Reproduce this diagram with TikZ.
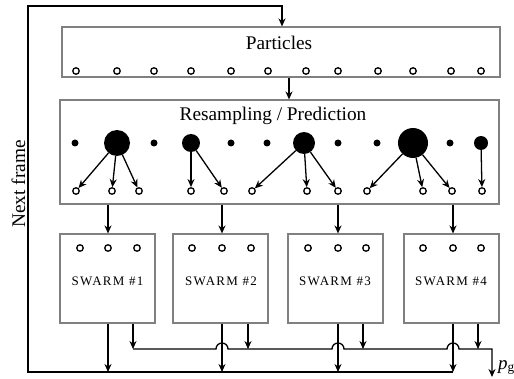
\documentclass[tikz,border=0pt]{standalone}
\usepackage{fontspec}
\setmainfont{Liberation Serif}
\usetikzlibrary{arrows.meta,calc}
\begin{document}
\begin{tikzpicture}[x=1pt,y=1pt,
  line/.style={line width=1.3pt},
  arr/.style={line, -{Stealth[length=8pt,width=7pt]}},
  graybox/.style={draw={rgb,255:red,128;green,128;blue,128}, line width=1.1pt, inner sep=0},
  hollow/.style={circle, draw, line width=1.3pt, inner sep=0, minimum size=6.5pt},
  dotn/.style={circle, fill, inner sep=0},
  title/.style={font=\fontsize{19.3}{22}\selectfont, anchor=base, inner sep=0},
  swarmlbl/.style={font=\fontsize{13}{15}\selectfont\addfontfeature{LetterSpace=10}, anchor=base, inner sep=0}
]
\useasboundingbox (0,0) rectangle (514,378);
% Particles
\node[graybox, minimum width=438pt, minimum height=50pt] (part) at (281,326) {};
\node[title] (partT) at (279,328) {Particles};
\foreach \x [count=\i] in {76,117,154,191,231,268,306,338,378,413,451,481}
  \node[hollow] (p\i) at (\x,307) {};
% Resampling
\node[graybox, minimum width=439pt, minimum height=104pt] (res) at (279.5,226) {};
\node[title] (resT) at (273,257) {Resampling / Prediction};
\foreach \x/\d [count=\i] in {75/7,117/26,154/7,191/18,231/7,267/7,304/22,338/7,377/7,413/30,450/7,481/14}
  \node[dotn, minimum size=\d pt] (d\i) at (\x,235) {};
\foreach \x [count=\i] in {76,112,139,191,224,252,307,338,367,423,452,482}
  \node[hollow] (h\i) at (\x,187) {};
\foreach \a/\b in {2/1,2/2,2/3,4/4,4/5,7/6,7/7,7/8,10/9,10/10,10/11,12/12}
  \draw[arr] (d\a) -- (h\b);
\coordinate (pr) at (289,300);
\draw[arr] (part.south -| pr) -- (res.north -| pr);
% Swarms
\foreach \c/\t [count=\i] in {107.5/107.5,220.5/221,335.5/335,451.5/451}{
  \node[graybox, minimum width=95pt, minimum height=89pt] (s\i) at (\c,99.5) {};
  \node[swarmlbl] (sl\i) at (\t,93) {SWARM \#\i};
}
\foreach \i/\xa/\xb/\xc in {1/80/108/137,2/192/222/251,3/308/338/366,4/423/453/481}{
  \node[hollow] (c\i-1) at (\xa,130) {};
  \node[hollow] (c\i-2) at (\xb,130) {};
  \node[hollow] (c\i-3) at (\xc,130) {};
}
\foreach \i in {1,...,4}
  \draw[arr] (res.south -| c\i-2) -- (s\i.north -| c\i-2);
% loop
\coordinate (bl) at (28,6);
\coordinate (tl) at (28,372);
\coordinate (tr) at (282,372);
\draw[arr] (bl -| c4-2) -- (bl) -- (tl) -- (tr) -- (tr |- part.north);
\foreach \i in {1,...,4}
  \draw[arr] (s\i.south -| c\i-2) -- (bl -| c\i-2);
% p_g line
\foreach \i/\x in {1/133,2/248,3/363,4/478}{
  \coordinate (r\i) at (\x,29);
  \draw[arr] (s\i.south -| r\i) -- (r\i);
}
\coordinate (pg) at (492,29);
\coordinate (pgend) at (492,1);
\draw[arr] (r1) -- ($(r1 -| c2-2)+(-6,0)$) arc[start angle=180,end angle=0,radius=6pt]
  -- ($(r1 -| c3-2)+(-6,0)$) arc[start angle=180,end angle=0,radius=6pt]
  -- ($(r1 -| c4-2)+(-6,0)$) arc[start angle=180,end angle=0,radius=6pt]
  -- (pg) -- (pgend);
\node[anchor=base west, inner sep=0, font=\fontsize{19}{22}\selectfont] (pgl) at (498,9) {\textit{p}\textsubscript{g}};
% Next frame
\node[rotate=90, anchor=base, inner sep=0, font=\fontsize{19.3}{22}\selectfont] (nf) at (25,194) {Next frame};
\end{tikzpicture}
\end{document}
